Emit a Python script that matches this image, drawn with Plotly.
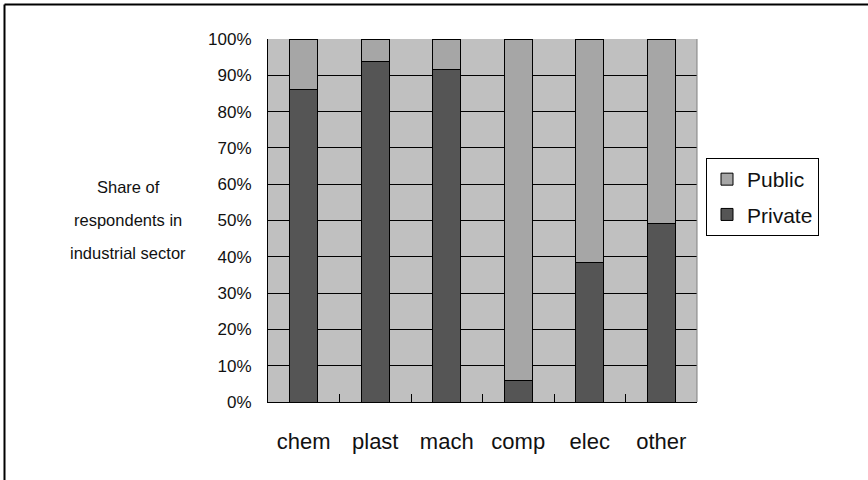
import plotly.graph_objects as go

# Survey shares by industrial sector
sectors = ["chem", "plast", "mach", "comp", "elec", "other"]
private_share = [0.862, 0.937, 0.915, 0.059, 0.385, 0.493]
public_share = [round(1 - v, 3) for v in private_share]
y_ticks = [i / 10 for i in range(11)]
y_tick_labels = [f"{i * 10}%" for i in range(11)]
title_lines = ["Share of", "respondents in", "industrial sector"]

W, H = 868, 480
ML, MR, MT, MB = 268, 171, 39, 78
PW, PH = W - ML - MR, H - MT - MB


def px_x(px):
    return (px - ML) / PW


def px_y(py):
    return (H - MB - py) / PH


FONT = "Liberation Sans, Arial, sans-serif"
INK = "#111111"

fig = go.Figure()
fig.add_trace(go.Bar(
    x=sectors, y=private_share, name="Private", legendgroup="private", legendrank=2,
    marker=dict(color="#555555", line=dict(color="#000000", width=1)),
    width=0.39,
))
fig.add_trace(go.Bar(
    x=sectors, y=public_share, name="Public", legendgroup="public", legendrank=1,
    marker=dict(color="#a6a6a6", line=dict(color="#000000", width=1)),
    width=0.39,
))

annotations = []
for i, line in enumerate(title_lines):
    annotations.append(dict(
        text=line, xref="paper", yref="paper", x=px_x(128), y=px_y(187 + 33 * i),
        xanchor="center", yanchor="middle", showarrow=False,
        font=dict(family=FONT, size=16.5, color=INK),
    ))

# Outer frame (left and top edges)
shapes = [
    dict(type="line", xref="paper", yref="paper", x0=px_x(4.5), x1=px_x(W + 5),
         y0=px_y(4.5), y1=px_y(4.5), line=dict(color="#000000", width=2)),
    dict(type="line", xref="paper", yref="paper", x0=px_x(4.5), x1=px_x(4.5),
         y0=px_y(4.5), y1=px_y(H + 5), line=dict(color="#000000", width=2)),
    # right edge of plot area
    dict(type="line", xref="paper", yref="paper", x0=1, x1=1, y0=0, y1=1,
         line=dict(color="#808080", width=1)),
]

fig.update_layout(
    width=W, height=H,
    margin=dict(l=ML, r=MR, t=MT, b=MB, pad=0),
    barmode="stack",
    paper_bgcolor="#ffffff",
    plot_bgcolor="#c0c0c0",
    font=dict(family=FONT, size=15, color=INK),
    showlegend=True,
    legend=dict(
        x=px_x(706), y=px_y(158), xanchor="left", yanchor="top",
        xref="paper", yref="paper",
        bordercolor="#000000", borderwidth=1, bgcolor="#ffffff",
        font=dict(family=FONT, size=21, color=INK),
        traceorder="grouped", tracegroupgap=5,
        itemwidth=30,
    ),
    xaxis=dict(
        type="category", tickson="boundaries", ticks="inside", ticklen=8,
        tickcolor="#000000", showgrid=False, showline=True, linecolor="#000000",
        linewidth=1, tickfont=dict(family=FONT, size=22, color=INK),
        ticklabelstandoff=20, range=[-0.5, 5.5],
    ),
    yaxis=dict(
        range=[0, 1], tickvals=y_ticks, ticktext=y_tick_labels,
        ticks="inside", ticklen=5, tickcolor="#000000",
        showgrid=True, gridcolor="#000000", gridwidth=1,
        showline=True, linecolor="#000000", linewidth=1,
        tickfont=dict(family=FONT, size=17, color=INK),
        ticklabelstandoff=12, zeroline=False,
    ),
    annotations=annotations,
    shapes=shapes,
)

fig.write_html("out.html")
